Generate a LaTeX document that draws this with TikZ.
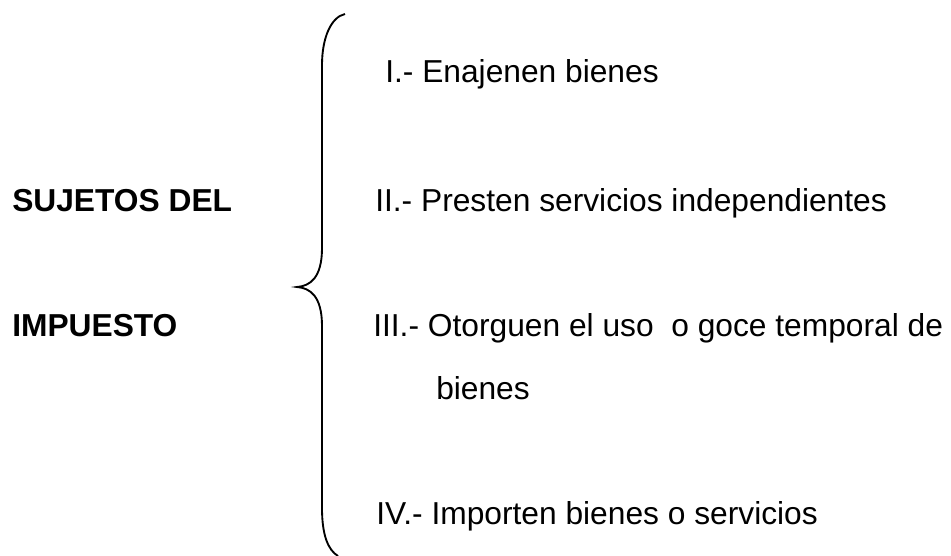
\documentclass[tikz,border=0pt]{standalone}
\usepackage{fontspec}
\setmainfont{Liberation Sans}
\usepackage{tikz}
\tikzstyle{headtext} = [anchor=base west, inner sep=0pt, font={\fontsize{23.8}{28}\selectfont\bfseries}]
\tikzstyle{itemtext} = [anchor=base west, inner sep=0pt, font={\fontsize{23.8}{28}\selectfont}]
\tikzstyle{bracket} = [draw, line width=1.4pt]

\begin{document}
\begin{tikzpicture}[x=0.75pt, y=-0.75pt]
      \useasboundingbox (0,0) rectangle (951,556);
      \node [headtext] (suj) at (12,212) {SUJETOS DEL};
      \node [headtext] (imp) at (12,337) {IMPUESTO};
      \node [itemtext] (uno) at (385,83) {I.- Enajenen bienes};
      \node [itemtext] (dos) at (375,212) {II.- Presten servicios independientes};
      \node [itemtext] (tres) at (373,337) {III.- Otorguen el uso \ o goce temporal de};
      \node [itemtext] (tresb) at (436,400) {bienes};
      \node [itemtext] (cuatro) at (376,524) {IV.- Importen bienes o servicios};
      % brace
      \path [bracket] (345,14) .. controls (331,17) and (322,38) .. (322,65)
        -- (322,248) .. controls (322,278) and (310,286) .. (297,287)
        .. controls (310,288) and (322,296) .. (322,326)
        -- (322,508) .. controls (322,535) and (328,550) .. (338,556);
    \end{tikzpicture}
\end{document}
